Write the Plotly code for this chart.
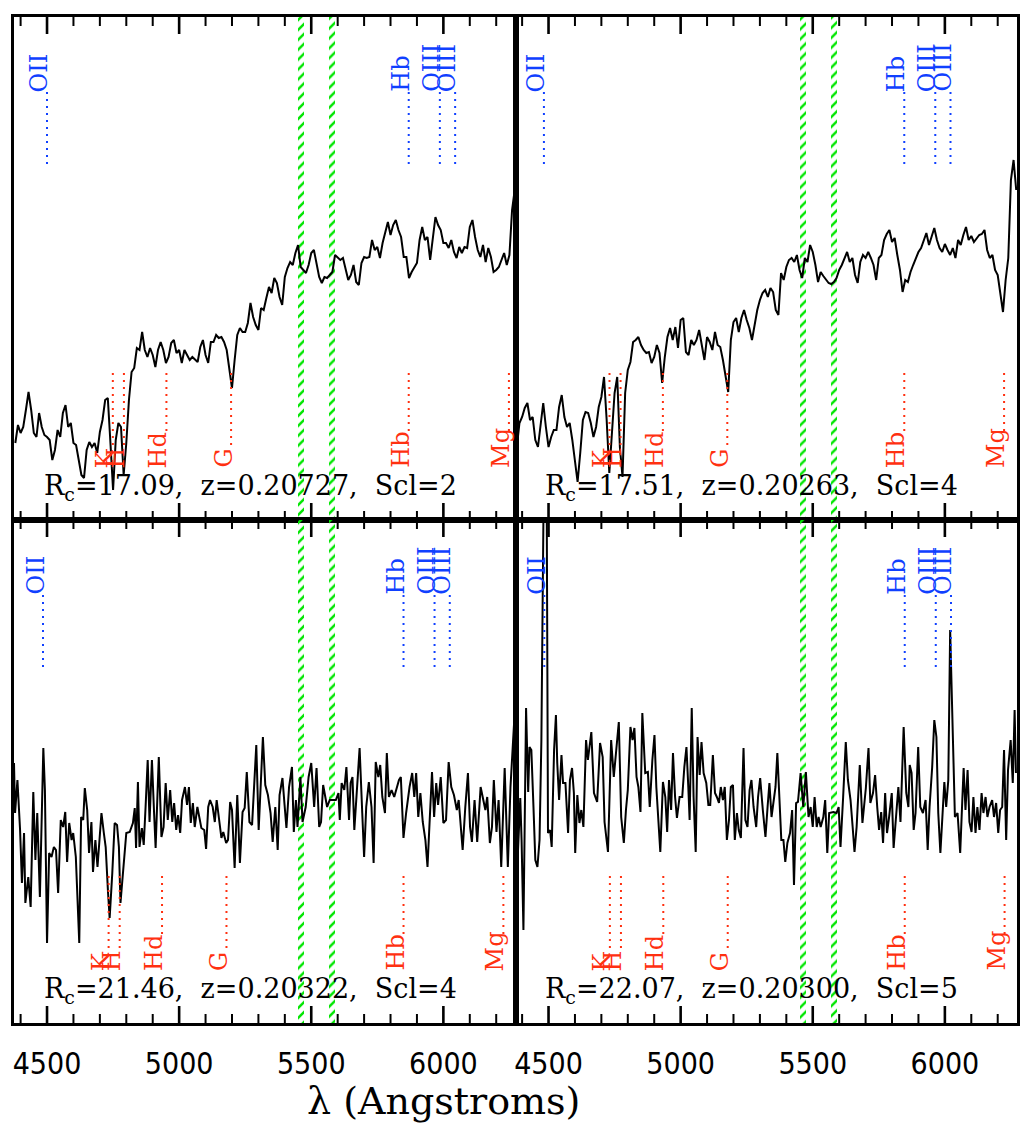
import plotly.graph_objects as go

# ---------------- data ----------------
# sampling grid (Angstrom) for the two upper spectra
WAVE_GRID = list(range(4380, 6280, 10))

TL_FLUX = [
    77, 95, 87, 93, 110, 128, 110, 87, 83, 107,
    93, 85, 83, 80, 60, 70, 90, 83, 107, 115,
    93, 97, 77, 75, 60, 45, 42, 70, 78, 73,
    77, 67, 88, 100, 120, 122, 77, 30, 80, 97,
    93, 45, 77, 120, 148, 152, 172, 170, 188, 170,
    163, 172, 165, 153, 170, 178, 170, 157, 163, 177,
    180, 167, 170, 157, 170, 165, 160, 163, 160, 158,
    173, 180, 165, 157, 178, 178, 185, 182, 183, 178,
    170, 150, 132, 160, 185, 192, 188, 188, 197, 217,
    203, 195, 190, 212, 210, 222, 233, 227, 242, 237,
    223, 215, 243, 252, 258, 255, 267, 275, 253, 250,
    247, 255, 267, 270, 255, 243, 237, 243, 242, 245,
    248, 265, 262, 260, 262, 252, 240, 245, 255, 238,
    235, 257, 263, 262, 263, 280, 270, 273, 262, 277,
    288, 298, 285, 295, 300, 290, 283, 263, 263, 242,
    248, 252, 257, 280, 293, 280, 283, 260, 285, 303,
    295, 290, 277, 277, 272, 280, 268, 262, 273, 267,
    273, 272, 293, 300, 283, 270, 263, 275, 258, 272,
    263, 248, 250, 253, 260, 267, 255, 265, 310, 330,
]

TR_FLUX = [
    73, 97, 103, 112, 117, 100, 103, 80, 73, 93,
    117, 93, 73, 83, 90, 90, 113, 125, 103, 93,
    97, 80, 60, 38, 67, 100, 108, 107, 97, 83,
    93, 113, 123, 143, 100, 47, 87, 127, 143, 73,
    43, 127, 150, 158, 178, 180, 183, 175, 170, 167,
    168, 157, 163, 175, 167, 137, 163, 183, 192, 180,
    193, 172, 200, 202, 168, 165, 180, 175, 180, 190,
    175, 160, 183, 178, 170, 188, 175, 173, 160, 145,
    128, 180, 198, 202, 188, 202, 210, 200, 192, 180,
    197, 210, 220, 227, 230, 223, 232, 228, 210, 205,
    247, 240, 253, 260, 262, 258, 265, 250, 242, 262,
    258, 275, 268, 255, 238, 248, 244, 240, 237, 236,
    238, 242, 250, 255, 262, 268, 258, 262, 245, 237,
    258, 265, 262, 268, 262, 255, 240, 262, 265, 280,
    286, 290, 278, 282, 265, 250, 228, 240, 238, 248,
    255, 262, 268, 272, 280, 287, 275, 283, 292, 280,
    272, 268, 276, 270, 265, 272, 262, 280, 275, 285,
    293, 280, 284, 278, 282, 285, 286, 290, 270, 262,
    265, 250, 245, 225, 208, 240, 262, 340, 360, 330,
]

BL_WAVE = [
    4375, 4379, 4388, 4398, 4405, 4413, 4418, 4429, 4438, 4448, 4456, 4463, 4473, 4486, 4492, 4500,
    4508, 4517, 4526, 4534, 4542, 4552, 4561, 4569, 4576, 4584, 4593, 4599, 4609, 4622, 4629, 4637,
    4643, 4652, 4659, 4668, 4674, 4683, 4691, 4700, 4706, 4715, 4722, 4731, 4737, 4747, 4756, 4765,
    4772, 4778, 4788, 4800, 4813, 4825, 4832, 4837, 4844, 4850, 4859, 4866, 4873, 4881, 4888, 4897,
    4905, 4911, 4923, 4933, 4941, 4949, 4957, 4966, 4974, 4981, 4989, 4996, 5004, 5011, 5022, 5030,
    5037, 5044, 5052, 5059, 5069, 5077, 5084, 5095, 5102, 5110, 5117, 5127, 5135, 5142, 5152, 5160,
    5167, 5178, 5185, 5193, 5200, 5210, 5220, 5230, 5240, 5248, 5256, 5266, 5276, 5284, 5292, 5301,
    5310, 5317, 5326, 5336, 5346, 5354, 5364, 5373, 5380, 5391, 5399, 5406, 5416, 5427, 5434, 5442,
    5448, 5459, 5467, 5479, 5490, 5500, 5511, 5520, 5530, 5537, 5545, 5552, 5560, 5570, 5580, 5593,
    5603, 5608, 5615, 5625, 5633, 5643, 5649, 5656, 5663, 5673, 5683, 5693, 5700, 5708, 5718, 5728,
    5736, 5744, 5754, 5761, 5769, 5779, 5786, 5794, 5804, 5814, 5824, 5832, 5839, 5849, 5859, 5872,
    5882, 5890, 5897, 5905, 5913, 5922, 5932, 5940, 5947, 5957, 5965, 5973, 5980, 5990, 6000, 6010,
    6020, 6030, 6040, 6051, 6058, 6066, 6073, 6083, 6093, 6101, 6108, 6118, 6128, 6141, 6149, 6159,
    6166, 6176, 6184, 6191, 6201, 6209, 6219, 6227, 6232, 6244, 6254, 6264, 6272,
]
BL_FLUX = [
    260, 210, 243, 193, 140, 190, 120, 146, 116, 231, 163, 210, 126, 275, 233, 80,
    170, 166, 176, 173, 130, 203, 196, 211, 161, 200, 183, 190, 166, 80, 206, 203,
    235, 213, 170, 201, 151, 183, 156, 193, 210, 190, 176, 130, 105, 150, 200, 198,
    176, 120, 153, 190, 191, 200, 215, 175, 241, 176, 195, 178, 216, 263, 201, 263,
    211, 175, 266, 186, 196, 240, 203, 233, 201, 220, 193, 208, 190, 223, 236, 218,
    236, 200, 220, 196, 216, 203, 195, 193, 174, 216, 223, 216, 201, 223, 203, 185,
    191, 180, 183, 221, 213, 155, 228, 160, 211, 215, 251, 201, 198, 240, 278, 193,
    243, 286, 238, 228, 210, 181, 216, 173, 228, 245, 218, 195, 236, 256, 191, 223,
    196, 246, 201, 216, 246, 260, 216, 255, 196, 201, 238, 226, 216, 223, 223, 223,
    230, 203, 240, 233, 256, 203, 240, 246, 193, 236, 275, 210, 166, 216, 241, 216,
    160, 261, 246, 258, 226, 210, 270, 226, 233, 226, 236, 243, 246, 185, 210, 236,
    250, 226, 250, 206, 230, 201, 183, 156, 196, 251, 206, 240, 218, 246, 200, 203,
    261, 236, 228, 213, 223, 196, 173, 216, 250, 196, 181, 223, 181, 236, 226, 213,
    226, 180, 196, 243, 191, 223, 156, 210, 255, 156, 236, 283, 320,
]

BR_WAVE = [
    4383, 4393, 4398, 4405, 4415, 4423, 4428, 4435, 4443, 4450, 4458, 4466, 4473, 4478, 4484, 4492,
    4498, 4506, 4512, 4521, 4528, 4533, 4540, 4549, 4555, 4564, 4574, 4581, 4589, 4596, 4601, 4609,
    4617, 4624, 4632, 4642, 4649, 4662, 4672, 4684, 4695, 4705, 4712, 4725, 4737, 4747, 4757, 4766,
    4775, 4785, 4793, 4800, 4810, 4818, 4825, 4833, 4840, 4848, 4855, 4866, 4876, 4883, 4893, 4901,
    4908, 4916, 4923, 4933, 4942, 4949, 4956, 4964, 4971, 4979, 4986, 4996, 5006, 5014, 5022, 5029,
    5034, 5042, 5049, 5057, 5064, 5072, 5079, 5087, 5097, 5105, 5112, 5122, 5130, 5137, 5145, 5152,
    5160, 5167, 5175, 5183, 5190, 5198, 5205, 5213, 5220, 5228, 5238, 5245, 5253, 5261, 5268, 5276,
    5286, 5293, 5301, 5311, 5321, 5329, 5336, 5344, 5351, 5359, 5366, 5374, 5381, 5389, 5396, 5404,
    5414, 5422, 5429, 5437, 5444, 5454, 5464, 5474, 5484, 5492, 5500, 5507, 5515, 5522, 5530, 5540,
    5547, 5555, 5562, 5578, 5590, 5598, 5605, 5615, 5625, 5633, 5643, 5651, 5658, 5666, 5678, 5688,
    5701, 5711, 5718, 5728, 5736, 5744, 5751, 5759, 5766, 5774, 5781, 5789, 5799, 5806, 5814, 5824,
    5832, 5844, 5854, 5862, 5867, 5874, 5882, 5889, 5899, 5907, 5917, 5927, 5935, 5942, 5952, 5960,
    5968, 5975, 5983, 5990, 5998, 6005, 6013, 6020, 6030, 6038, 6048, 6058, 6066, 6071, 6078, 6086,
    6093, 6101, 6108, 6116, 6123, 6131, 6139, 6146, 6154, 6161, 6169, 6179, 6186, 6194, 6202, 6209,
    6217, 6224, 6232, 6239, 6249, 6257, 6264, 6269,
]
BR_FLUX = [
    163, 225, 183, 93, 315, 231, 276, 273, 216, 163, 156, 183, 283, 420, 600, 600,
    190, 193, 176, 273, 308, 260, 223, 268, 240, 240, 190, 243, 255, 230, 170, 228,
    200, 213, 196, 283, 263, 291, 230, 221, 280, 266, 201, 171, 283, 246, 273, 301,
    206, 180, 213, 233, 296, 283, 295, 246, 236, 211, 310, 250, 251, 216, 263, 288,
    236, 203, 171, 241, 226, 191, 243, 213, 270, 226, 205, 226, 226, 256, 276, 236,
    203, 315, 226, 171, 286, 248, 281, 250, 240, 218, 218, 268, 230, 226, 220, 236,
    223, 236, 183, 203, 236, 238, 183, 210, 193, 185, 275, 203, 196, 233, 243, 216,
    196, 226, 245, 213, 186, 216, 240, 206, 220, 236, 270, 230, 183, 183, 161, 180,
    190, 213, 138, 220, 221, 250, 216, 251, 206, 216, 196, 226, 196, 206, 196, 206,
    223, 170, 210, 211, 210, 216, 176, 226, 281, 243, 223, 196, 171, 196, 258, 200,
    235, 275, 220, 230, 248, 216, 193, 211, 180, 230, 190, 206, 230, 175, 203, 236,
    201, 296, 230, 216, 258, 250, 193, 210, 276, 216, 210, 223, 173, 216, 256, 303,
    286, 210, 170, 206, 241, 216, 243, 393, 283, 206, 210, 170, 223, 255, 213, 253,
    201, 191, 226, 190, 216, 193, 230, 210, 226, 206, 216, 223, 206, 220, 190, 213,
    216, 273, 183, 253, 283, 240, 313, 250,
]

REDSHIFTS = [0.20727, 0.20263, 0.20322, 0.20300]
RC_MAGS = ["17.09", "17.51", "21.46", "22.07"]
SCALES = [2, 4, 4, 5]

EMISSION_NAMES = ["OII", "Hb", "OIII", "OIII"]
EMISSION_REST = [3727.3, 4861.3, 4958.9, 5006.8]
ABSORPTION_NAMES = ["K", "H", "Hd", "G", "Hb", "Mg"]
ABSORPTION_REST = [3933.7, 3968.5, 4101.7, 4304.4, 4861.3, 5175.4]
SKY_LINES = [5460, 5577]

MAJOR_TICKS = [4500, 5000, 5500, 6000]
MINOR_TICKS = [4400, 4600, 4700, 4800, 4900, 5100, 5200, 5300,
               5400, 5600, 5700, 5800, 5900, 6100, 6200]

# ---------------- style ----------------
BLUE = "#1040ff"
RED = "#ff3010"
GREEN = "#00e600"
SERIF = "DejaVu Serif, serif"
NARROW = "Liberation Sans Narrow, DejaVu Sans Condensed, Liberation Sans, sans-serif"
XR = [4375, 6273]
YR = [0, 503]          # flux units chosen so that one unit = one screen pixel
MAJOR_LEN = 17
MINOR_LEN = 9

panel_data = [
    (WAVE_GRID, TL_FLUX),
    (WAVE_GRID, TR_FLUX),
    (BL_WAVE, BL_FLUX),
    (BR_WAVE, BR_FLUX),
]
x_domains = [[0, 0.5], [0.5, 1], [0, 0.5], [0.5, 1]]
y_domains = [[0.5, 1], [0.5, 1], [0, 0.5], [0, 0.5]]

fig = go.Figure()
annotations = []
shapes = []

for i in range(4):
    n = "" if i == 0 else str(i + 1)
    xa, ya = "x" + n, "y" + n
    z = REDSHIFTS[i]
    wave, flux = panel_data[i]

    # sky-line bands (hatched)
    fig.add_trace(go.Bar(
        x=SKY_LINES, y=[YR[1], YR[1]], base=0, width=22,
        xaxis=xa, yaxis=ya, hoverinfo="skip", showlegend=False,
        marker=dict(color="rgba(0,0,0,0)", line=dict(width=0),
                    pattern=dict(shape="/", fgcolor=GREEN, bgcolor="rgba(0,0,0,0)",
                                 fillmode="replace", size=7, solidity=0.35)),
    ))

    # spectrum
    fig.add_trace(go.Scatter(
        x=wave, y=flux, mode="lines", xaxis=xa, yaxis=ya,
        line=dict(color="black", width=2), hoverinfo="skip", showlegend=False,
    ))

    # emission lines (blue, top)
    ex, ey = [], []
    for name, rest in zip(EMISSION_NAMES, EMISSION_REST):
        lo = rest * (1 + z)
        ex += [lo, lo, None]
        ey += [428, 352, None]
        annotations.append(dict(
            x=lo, y=428, xref=xa, yref=ya, text=name, showarrow=False,
            textangle=-90, xanchor="right", yanchor="bottom", xshift=6,
            font=dict(family=SERIF, size=24, color=BLUE), borderpad=0, borderwidth=0,
        ))
    fig.add_trace(go.Scatter(
        x=ex, y=ey, mode="lines", xaxis=xa, yaxis=ya, hoverinfo="skip", showlegend=False,
        line=dict(color=BLUE, width=2, dash="2px,5px"),
    ))

    # absorption lines (red, bottom)
    axx, ayy = [], []
    for name, rest in zip(ABSORPTION_NAMES, ABSORPTION_REST):
        lo = rest * (1 + z)
        axx += [lo, lo, None]
        ayy += [147, 54 + 17 * len(name), None]
        annotations.append(dict(
            x=lo, y=52, xref=xa, yref=ya, text=name, showarrow=False,
            textangle=-90, xanchor="right", yanchor="bottom", xshift=6,
            font=dict(family=SERIF, size=24, color=RED), borderpad=0, borderwidth=0,
        ))
    fig.add_trace(go.Scatter(
        x=axx, y=ayy, mode="lines", xaxis=xa, yaxis=ya, hoverinfo="skip", showlegend=False,
        line=dict(color=RED, width=2, dash="2px,5px"),
    ))

    # tick marks as layout shapes (bottom and top edges, pointing inward)
    for vals, ln, w in ((MINOR_TICKS, MINOR_LEN, 2), (MAJOR_TICKS, MAJOR_LEN, 2.6)):
        for v in vals:
            shapes.append(dict(type="line", xref=xa, yref=ya, x0=v, x1=v,
                               y0=YR[0], y1=YR[0] + ln, layer="above",
                               line=dict(color="black", width=w)))
            shapes.append(dict(type="line", xref=xa, yref=ya, x0=v, x1=v,
                               y0=YR[1], y1=YR[1] - ln, layer="above",
                               line=dict(color="black", width=w)))

    # info text
    annotations.append(dict(
        x=28 / 503, y=33, xref=xa + " domain", yref=ya, xanchor="left", yanchor="middle",
        text="R<sub>c</sub>=%s,\u00a0 z=%.5f,\u00a0 Scl=%d" % (RC_MAGS[i], z, SCALES[i]),
        showarrow=False, font=dict(family=SERIF, size=27, color="black"),
    ))

    bottom = i >= 2
    fig.layout["xaxis" + n] = dict(
        domain=x_domains[i], anchor=ya, range=XR, showgrid=False, zeroline=False,
        showline=True, linecolor="black", linewidth=2.5, mirror=True,
        tickmode="array", tickvals=MAJOR_TICKS, ticktext=[str(v) for v in MAJOR_TICKS],
        ticks="", showticklabels=bottom, ticklabelstandoff=12,
        tickfont=dict(family=NARROW, size=30, color="black"),
        fixedrange=True,
    )
    fig.layout["yaxis" + n] = dict(
        domain=y_domains[i], anchor=xa, range=YR, showgrid=False, zeroline=False,
        showline=True, linecolor="black", linewidth=2.5, mirror=True,
        ticks="", showticklabels=False, fixedrange=True,
    )

annotations.append(dict(
    x=(445 - 14) / 1006, y=-0.078, xref="paper", yref="paper",
    xanchor="center", yanchor="middle", text="λ (Angstroms)", showarrow=False,
    font=dict(family=SERIF, size=38, color="black"),
))

fig.update_layout(
    width=1021, height=1144,
    margin=dict(l=14, r=1, t=17, b=121),
    paper_bgcolor="white", plot_bgcolor="white",
    annotations=annotations, shapes=shapes, bargap=0, showlegend=False,
)

fig.write_html("out.html", config={"displayModeBar": False},
               post_script="document.body.style.margin='0';")
